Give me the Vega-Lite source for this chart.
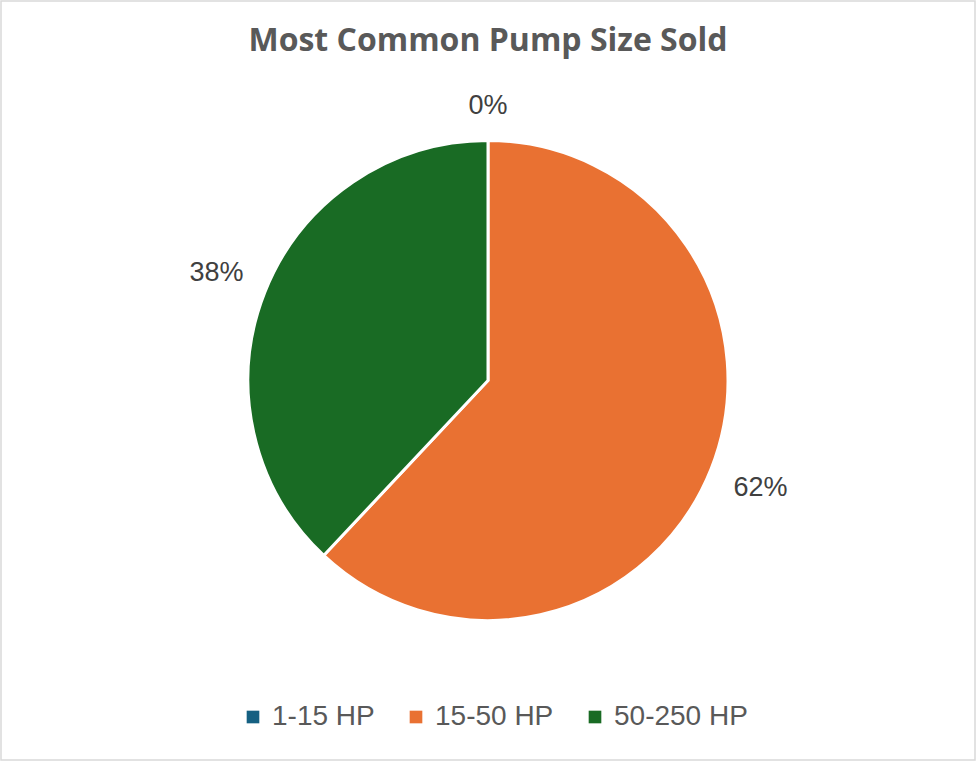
{
  "$schema": "https://vega.github.io/schema/vega-lite/v6.json",
  "width": 974,
  "height": 759,
  "padding": 1,
  "autosize": {"type": "none"},
  "background": "white",
  "config": {
    "view": {"stroke": null},
    "font": "Liberation Sans"
  },
  "title": {
    "text": "Most Common Pump Size Sold",
    "orient": "top",
    "anchor": "middle",
    "frame": "group",
    "offset": -58,
    "font": "Open Sans",
    "fontSize": 32,
    "fontWeight": "bold",
    "color": "#595959"
  },
  "data": {
    "values": [
      {"category": "1-15 HP", "value": 0, "label": "0%", "order": 1},
      {"category": "15-50 HP", "value": 62, "label": "62%", "order": 2},
      {"category": "50-250 HP", "value": 38, "label": "38%", "order": 3}
    ]
  },
  "layer": [
    {
      "data": {"values": [{"frame": "border"}]},
      "mark": {"type": "rect", "fill": null, "stroke": "#d9d9d9", "strokeWidth": 1.5},
      "encoding": {}
    },
    {
      "mark": {"type": "arc", "outerRadius": 240, "stroke": "white", "strokeWidth": 3},
      "encoding": {
        "theta": {"field": "value", "type": "quantitative", "stack": true},
        "order": {"field": "order", "type": "quantitative"},
        "color": {
          "field": "category",
          "type": "nominal",
          "sort": ["1-15 HP", "15-50 HP", "50-250 HP"],
          "scale": {
            "domain": ["1-15 HP", "15-50 HP", "50-250 HP"],
            "range": ["#156082", "#E97132", "#196B24"]
          },
          "legend": {
            "title": null,
            "orient": "none",
            "direction": "horizontal",
            "legendX": 238,
            "legendY": 702,
            "symbolType": "square",
            "symbolSize": 160,
            "symbolStrokeWidth": 0,
            "labelFontSize": 28,
            "labelColor": "#595959",
            "labelFont": "Liberation Sans",
            "columnPadding": 27,
            "labelOffset": 5
          }
        }
      }
    },
    {
      "mark": {"type": "text", "fontSize": 27, "font": "Liberation Sans"},
      "encoding": {
        "theta": {"field": "value", "type": "quantitative", "stack": true},
        "order": {"field": "order", "type": "quantitative"},
        "radius": {
          "field": "value",
          "type": "quantitative",
          "scale": {"type": "linear", "domain": [0, 38, 62], "range": [275, 292, 293], "zero": false}
        },
        "text": {"field": "label", "type": "nominal"},
        "color": {"value": "#404040"}
      }
    }
  ]
}
